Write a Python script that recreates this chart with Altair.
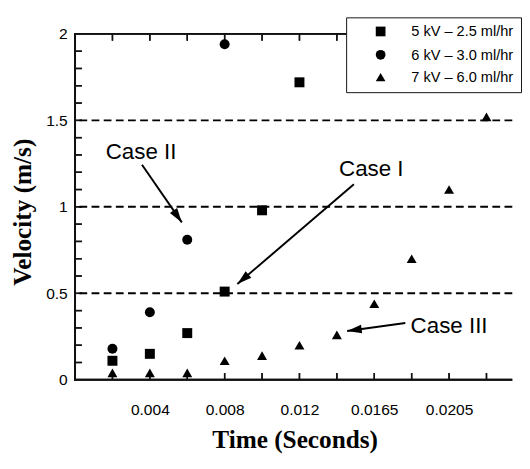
import math
import altair as alt
import pandas as pd

# ---------------- data ----------------
SERIES = ["5 kV – 2.5 ml/hr", "6 kV – 3.0 ml/hr", "7 kV – 6.0 ml/hr"]
SHAPES = ["square", "circle", "triangle-up"]

sq_t = [0.002, 0.004, 0.006, 0.008, 0.010, 0.012]
sq_v = [0.11, 0.15, 0.27, 0.51, 0.98, 1.72]

ci_t = [0.002, 0.004, 0.006, 0.008]
ci_v = [0.18, 0.39, 0.81, 1.94]

tr_t = [0.002, 0.004, 0.006, 0.008, 0.010, 0.012, 0.014, 0.016, 0.018, 0.020, 0.022]
tr_v = [0.04, 0.04, 0.04, 0.11, 0.14, 0.20, 0.26, 0.44, 0.70, 1.10, 1.52]

X_TICK_VALUES = [0.004, 0.008, 0.012, 0.016, 0.020]
X_TICK_LABELS = ["0.004", "0.008", "0.012", "0.0165", "0.0205"]
Y_TICK_VALUES = [0, 0.5, 1, 1.5, 2]

X_MINOR = [0.002, 0.004, 0.006, 0.008, 0.010, 0.012, 0.014, 0.016, 0.018, 0.020, 0.022]
Y_MINOR = [0.1, 0.2, 0.3, 0.4, 0.5, 0.6, 0.7, 0.8, 0.9, 1.0,
           1.1, 1.2, 1.3, 1.4, 1.5, 1.6, 1.7, 1.8, 1.9]
DASH_Y = [0.5, 1.0, 1.5]

ANN_TEXT = ["Case I", "Case II", "Case III"]
ANN_X = [0.01584, 0.00353, 0.0200]
ANN_Y = [1.22, 1.316, 0.308]
ARROW_X0 = [0.01491, 0.00358, 0.01766]
ARROW_Y0 = [1.130, 1.243, 0.328]
ARROW_X1 = [0.00868, 0.00571, 0.01455]
ARROW_Y1 = [0.554, 0.910, 0.2825]

# ---------------- layout ----------------
W, H = 450, 356
X_MAX = 0.02338
PXX = W / X_MAX
PXY = H / 2.0
TICK_LEN = 7
INK = "#111111"

points = pd.DataFrame({
    "t": sq_t + ci_t + tr_t,
    "v": sq_v + ci_v + tr_v,
    "series": [SERIES[0]] * len(sq_t) + [SERIES[1]] * len(ci_t) + [SERIES[2]] * len(tr_t),
})

angles = []
for x0, y0, x1, y1 in zip(ARROW_X0, ARROW_Y0, ARROW_X1, ARROW_Y1):
    dx = (x1 - x0) * PXX
    dy = -(y1 - y0) * PXY
    angles.append(math.degrees(math.atan2(dx, -dy)) % 360)

arrows = pd.DataFrame({"t": ARROW_X0, "v": ARROW_Y0, "t2": ARROW_X1, "v2": ARROW_Y1})
heads = pd.DataFrame({"t": ARROW_X1, "v": ARROW_Y1, "ang": angles})
labels = pd.DataFrame({"t": ANN_X, "v": ANN_Y, "txt": ANN_TEXT})
dash = pd.DataFrame({"v": DASH_Y})

# frame (left, bottom, top) and inward minor ticks drawn as thin filled bars
fx = 1.0 / PXX
fy = 1.0 / PXY
tx = TICK_LEN / PXX
ty = TICK_LEN / PXY
hx = 0.75 / PXX
hy = 0.75 / PXY
bx0, bx1, by0, by1 = [], [], [], []
bx0 += [-fx, -fx, -fx]
bx1 += [fx, X_MAX, X_MAX]
by0 += [-fy, -fy, 2.0 - fy]
by1 += [2.0 + fy, fy, 2.0 + fy]
for t in X_MINOR:
    bx0.append(t - hx); bx1.append(t + hx); by0.append(0.0); by1.append(ty)
for t in X_MINOR:
    bx0.append(t - hx); bx1.append(t + hx); by0.append(2.0 - ty); by1.append(2.0)
for v in Y_MINOR:
    bx0.append(0.0); bx1.append(tx); by0.append(v - hy); by1.append(v + hy)
bars = pd.DataFrame({"t": bx0, "t2": bx1, "v": by0, "v2": by1})

# the same frame as one polyline (top -> left -> bottom)
frame_path = pd.DataFrame({"t": [X_MAX, 0.0, 0.0, X_MAX], "v": [2.0, 2.0, 0.0, 0.0],
                           "o": [0, 1, 2, 3]})
# the same ticks as stroked point glyphs
vt = pd.DataFrame({"t": X_MINOR + X_MINOR,
                   "v": [ty / 2] * len(X_MINOR) + [2.0 - ty / 2] * len(X_MINOR)})
ht = pd.DataFrame({"t": [tx / 2] * len(Y_MINOR), "v": Y_MINOR})

label_expr = "[" + ",".join("'%s'" % s for s in X_TICK_LABELS) + "][round(datum.value * 250) - 1]"

xscale = alt.Scale(domain=[0, X_MAX], nice=False, zero=False)
yscale = alt.Scale(domain=[0, 2], nice=False)

xaxis = alt.Axis(values=X_TICK_VALUES, labelExpr=label_expr, ticks=False, tickSize=0,
                 grid=False, domain=False,
                 labelFont="Liberation Sans", labelFontSize=16, labelColor="black",
                 labelPadding=23, title="Time (Seconds)", titleFont="Liberation Serif",
                 titleFontSize=26, titleFontWeight="bold", titleColor="black",
                 titleX=226, titleY=70, titleBaseline="alphabetic", titleAlign="center")
yaxis = alt.Axis(values=Y_TICK_VALUES, format=".1~f", ticks=False, tickSize=0,
                 grid=False, domain=False,
                 labelFont="Liberation Sans", labelFontSize=16, labelColor="black",
                 labelPadding=8, title="Velocity (m/s)", titleFont="Liberation Serif",
                 titleFontSize=26, titleFontWeight="bold", titleColor="black",
                 titleX=-46, titleY=183, titleBaseline="alphabetic", titleAlign="center")


def X(f="t"):
    return alt.X(f"{f}:Q", scale=xscale, axis=xaxis)


def Y(f="v"):
    return alt.Y(f"{f}:Q", scale=yscale, axis=yaxis)


pts = alt.Chart(points).mark_point(filled=True, size=105, color="black", opacity=1).encode(
    x=X(), y=Y(),
    shape=alt.Shape("series:N", scale=alt.Scale(domain=SERIES, range=SHAPES),
                    legend=alt.Legend(title=None, orient="none", legendX=279, legendY=-17,
                                      fillColor="white", strokeColor=INK, padding=7,
                                      symbolOffset=21, labelOffset=24,
                                      labelFont="Liberation Sans", labelFontSize=15,
                                      labelColor="black", symbolFillColor="black",
                                      symbolStrokeColor="black", symbolSize=100,
                                      symbolOpacity=1, rowPadding=7)),
)

bars_l = alt.Chart(bars).mark_rect(color=INK, opacity=1).encode(
    x=X(), y=Y(), x2=alt.X2("t2"), y2=alt.Y2("v2"))
frame_l = alt.Chart(frame_path).mark_line(color=INK, strokeWidth=2, opacity=1).encode(
    x=X(), y=Y(), order=alt.Order("o:Q"))
vt_l = alt.Chart(vt).mark_point(shape="M0,-1L0,1", filled=False, size=49, strokeWidth=1.5,
                                color=INK, opacity=1).encode(x=X(), y=Y())
ht_l = alt.Chart(ht).mark_point(shape="M-1,0L1,0", filled=False, size=49, strokeWidth=1.5,
                                color=INK, opacity=1).encode(x=X(), y=Y())
dash_l = alt.Chart(dash).mark_rule(color="black", strokeWidth=2, strokeDash=[8, 4.5]).encode(y=Y())

arr = alt.Chart(arrows).mark_rule(color="black", strokeWidth=2).encode(
    x=X(), y=Y(), x2=alt.X2("t2"), y2=alt.Y2("v2"))
hd = alt.Chart(heads).mark_point(shape="M0,0L0.6,2L-0.6,2Z", filled=True, size=225,
                                 color="black", opacity=1).encode(
    x=X(), y=Y(), angle=alt.Angle("ang:Q", scale=None))
txt = alt.Chart(labels).mark_text(font="Liberation Sans", fontSize=23, align="center",
                                  baseline="middle", color="black").encode(
    x=X(), y=Y(), text="txt:N")

chart = alt.layer(bars_l, frame_l, vt_l, ht_l, pts, dash_l, arr, hd, txt).properties(
    width=W, height=H,
    background="white",
    padding={"left": 2, "top": 2, "right": 0, "bottom": 4},
).configure_view(stroke=None)

chart.save("out.html", embed_options={"renderer": "svg", "actions": False})
